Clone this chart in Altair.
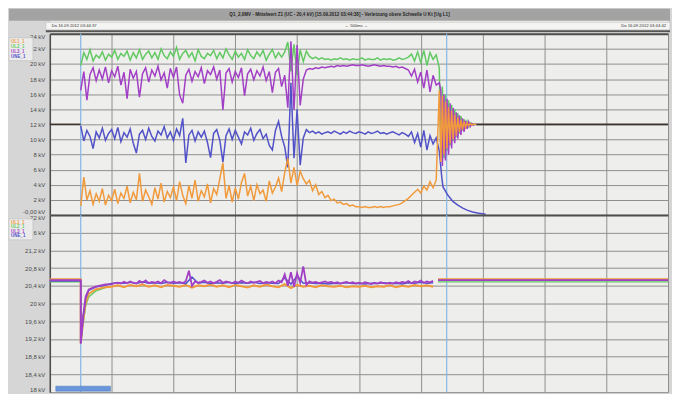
import altair as alt
import numpy as np
import pandas as pd

FONT = "Liberation Sans"

# ---------------- texts ----------------
TITLE = "Q1_2,0MV - Mittelwert Z1 (UC - 20,4 kV) [15.09.2012 03:44:38] - Verletzung obere Schwelle U Kt [Ug L1]"
DATE_LEFT = "Do 16.09.2012 03:44:37"
DATE_RIGHT = "Do 16.09.2012 03:44:42"
SPAN_LABEL = "\u2190 500ms \u2192"

SERIES = ["UL1_1", "UL2_1", "UL3_1", "UNE_1"]          # orange, green, purple, blue
COLORS = ["#f19a3c", "#63c963", "#a23fc6", "#5252c8"]
BASE_COLOR = "#3a332e"
CURSOR_COLOR = "#86b6e6"

GRID_X = [0, 1, 2, 3, 4, 5, 6, 7, 8, 9, 10]
CURSORS = [0.5, 6.42]
TOP_TICKS = [0, 2, 4, 6, 8, 10, 12, 14, 16, 18, 20, 22, 24]
BOT_TICKS = [18.0, 18.4, 18.8, 19.2, 19.6, 20.0, 20.4, 20.8, 21.2, 21.6, 22.0]

# ---------------- top panel data (kV), time in divisions ----------------
MAIN_T0, MAIN_DT = 0.5, 0.05
green_top = [
    19.8, 21.5, 20.6, 21.9, 20.4, 21.2, 20.8, 21.6, 20.5, 21.3,
    20.9, 21.8, 20.6, 21.4, 21.0, 21.7, 20.5, 21.5, 20.8, 21.9,
    20.6, 21.3, 21.7, 20.8, 21.5, 20.6, 22.0, 21.1, 20.7, 21.6,
    21.0, 22.2, 20.6, 21.4, 21.8, 20.9, 21.5, 20.4, 21.9, 21.0,
    20.7, 21.4, 21.1, 21.8, 20.7, 21.5, 20.8, 22.0, 21.2, 20.6,
    21.7, 20.9, 21.4, 20.6, 21.9, 21.1, 20.7, 21.6, 21.0, 21.8,
    20.5, 21.3, 21.9, 20.8, 21.5, 20.9, 21.6, 22.9, 19.0, 22.6,
    18.5, 21.9, 20.3, 21.7, 21.0, 20.7, 20.9, 20.6, 20.8, 20.6,
    20.7, 20.5, 20.7, 20.6, 20.8, 20.6, 20.7, 20.5, 20.7, 20.6,
    20.6, 20.8, 20.5, 20.7, 20.6, 20.6, 20.8, 20.5, 20.7, 20.6,
    20.7, 20.5, 20.6, 20.8, 20.6, 20.7, 20.9, 21.3, 20.4, 21.6,
    20.2, 21.8, 19.8, 21.5, 20.6, 21.2,
]
purple_top = [
    16.5, 19.0, 15.2, 18.6, 19.5, 17.8, 19.2, 18.0, 19.6, 17.5,
    19.1, 18.3, 19.7, 17.2, 18.9, 15.4, 19.3, 18.1, 19.0, 15.6,
    18.7, 19.5, 17.6, 19.2, 18.4, 19.7, 17.9, 18.8, 16.8, 19.4,
    18.2, 19.6, 15.9, 14.8, 18.5, 19.3, 17.7, 19.0, 18.3, 19.5,
    17.4, 19.1, 18.6, 19.6, 18.0, 19.2, 13.9, 18.8, 19.4, 17.6,
    19.0, 18.2, 19.5, 15.8, 18.7, 19.3, 17.9, 19.1, 18.4, 19.6,
    17.8, 19.0, 16.2, 18.9, 19.4, 17.0, 18.5, 14.2, 23.0, 13.9,
    22.5, 14.5, 18.0, 19.2, 19.4, 19.3, 19.5, 19.4, 19.6, 19.5,
    19.6, 19.7, 19.6, 19.8, 19.7, 19.8, 19.7, 19.8, 19.9, 19.8,
    19.8, 19.9, 19.8, 19.7, 19.8, 19.9, 19.8, 19.7, 19.8, 19.7,
    19.7, 19.6, 19.7, 19.5, 19.6, 19.4, 19.2, 18.4, 19.3, 17.6,
    18.9, 16.8, 19.2, 16.3, 18.5, 17.2,
]
blue_top = [
    11.8, 9.8, 11.2, 10.4, 8.8, 11.0, 10.2, 11.5, 9.9, 10.8,
    11.3, 10.1, 11.6, 9.7, 10.9, 10.3, 11.4, 9.5, 8.2, 10.7,
    11.2, 10.0, 11.5, 10.4, 9.8, 11.1, 10.6, 11.7, 10.2, 11.0,
    9.9, 11.4, 10.5, 12.8, 6.9, 10.6, 11.2, 9.8, 11.0, 10.3,
    11.1, 9.6, 7.6, 10.8, 11.3, 9.9, 7.0, 10.5, 11.4, 10.0,
    11.2, 10.3, 9.4, 11.0, 10.6, 11.5, 9.9, 10.8, 11.3, 10.1,
    10.7, 9.2, 8.6, 11.2, 12.4, 10.4, 9.0, 6.3, 17.5, 7.5,
    14.0, 6.6, 10.2, 11.3, 10.9, 11.1, 10.8, 11.0, 10.7, 10.9,
    11.0, 10.8, 11.1, 10.9, 10.7, 11.0, 10.8, 11.1, 10.9, 10.8,
    11.0, 10.9, 10.7, 11.0, 10.8, 10.9, 11.1, 10.8, 10.9, 10.7,
    10.9, 11.0, 10.8, 10.6, 10.9, 10.7, 10.4, 11.0, 9.6, 10.8,
    9.0, 11.2, 8.6, 10.5, 9.4, 10.2,
]
orange_top = [
    1.2, 5.0, 2.0, 3.2, 1.4, 2.8, 1.8, 3.5, 1.3, 2.6,
    1.9, 3.4, 1.5, 2.9, 2.2, 3.8, 1.6, 3.0, 2.0, 5.5,
    1.8, 3.3, 2.4, 1.4, 3.6, 2.1, 4.2, 1.7, 3.1, 2.3,
    3.7, 1.9, 4.4, 2.6, 1.5, 3.9, 2.2, 4.6, 1.8, 3.2,
    2.4, 4.1, 1.6, 3.5, 2.7, 4.8, 6.9, 2.2, 3.9, 1.7,
    3.6, 2.1, 4.3, 5.5, 2.5, 3.8, 1.9, 4.0, 2.8, 3.3,
    1.8, 4.5, 2.9, 3.7, 4.9, 3.1, 5.6, 7.5, 4.2, 6.3,
    3.9, 5.8, 4.8, 4.1, 4.6, 3.2, 4.0, 2.7, 3.1, 2.3,
    2.6, 1.9, 2.1, 1.6, 1.7, 1.4, 1.5, 1.2, 1.3, 1.1,
    1.1, 1.0, 1.1, 1.0, 1.0, 1.1, 1.0, 1.1, 1.0, 1.1,
    1.1, 1.2, 1.3, 1.4, 1.6, 1.9, 2.2, 2.6, 3.0, 3.4,
    2.9, 3.8, 3.3, 4.4, 3.6, 4.6,
]

DECAY_T0, DECAY_DT = 6.30, 0.025
green_decay = [19.5, 8.0, 17.0, 7.5, 16.0, 8.5, 15.2, 9.2, 14.6, 9.8, 14.0, 10.3, 13.5,
               10.8, 13.1, 11.2, 12.7, 11.5, 12.4, 11.7, 12.2, 11.9, 12.1, 12.0, 12.0]
purple_decay = [17.5, 16.5, 6.5, 16.0, 7.2, 15.4, 8.0, 14.8, 8.8, 14.2, 9.5, 13.6, 10.1,
                13.2, 10.6, 12.8, 11.0, 12.5, 11.4, 12.3, 11.7, 12.1, 11.9, 12.0, 12.0]
orange_decay = [16.5, 7.0, 15.8, 8.0, 15.0, 8.8, 14.3, 9.5, 13.8, 10.0, 13.3, 10.5, 12.9,
                11.0, 12.6, 11.3, 12.4, 11.6, 12.2, 11.8, 12.1, 11.9, 12.0, 12.0, 12.0]
blue_tail_t = [6.30, 6.34, 6.36, 6.44, 6.52, 6.60, 6.68, 6.76, 6.84, 6.92, 7.05]
blue_tail_v = [8.5, 5.0, 3.7, 2.6, 1.8, 1.3, 0.9, 0.6, 0.4, 0.25, 0.1]

BASE_LEVEL = 12.0
BASE_SPANS = [[0.0, 0.5], [6.9, 10.0]]

# ---------------- bottom panel data (kV) ----------------
PRE_SPAN = [0.0, 0.5]
POST_SPAN = [6.28, 10.0]
LEVEL_ORANGE, LEVEL_GREEN, LEVEL_PURPLE, LEVEL_BLUE = 20.55, 20.49, 20.53, 20.51
RISE_T = [0.5, 0.54, 0.58, 0.63, 0.74, 0.9]
orange_rise = [19.10, 19.62, 20.02, 20.22, 20.32, 20.37]
green_rise = [19.10, 19.55, 19.95, 20.15, 20.28, 20.36]
purple_rise = [19.10, 19.73, 20.16, 20.32, 20.38, 20.43]
blue_rise = [19.10, 19.70, 20.12, 20.30, 20.37, 20.42]

BOT_T0 = 1.0
purple_bot = [  # step 0.05
    20.44, 20.46, 20.47, 20.45, 20.49, 20.46, 20.50, 20.47, 20.45, 20.51,
    20.47, 20.52, 20.46, 20.49, 20.47, 20.50, 20.46, 20.53, 20.48, 20.47,
    20.50, 20.47, 20.49, 20.46, 20.51, 20.74, 20.40, 20.50, 20.47, 20.49,
    20.52, 20.47, 20.50, 20.46, 20.49, 20.53, 20.47, 20.50, 20.48, 20.46,
    20.50, 20.47, 20.52, 20.48, 20.46, 20.50, 20.47, 20.49, 20.51, 20.46,
    20.49, 20.47, 20.50, 20.46, 20.52, 20.48, 20.66, 20.40, 20.71, 20.38,
    20.68, 20.47, 20.84, 20.42, 20.50, 20.47, 20.49, 20.46, 20.48, 20.50,
    20.47, 20.49, 20.46, 20.48, 20.45, 20.47, 20.49, 20.46, 20.48, 20.45,
    20.47, 20.45, 20.48, 20.46, 20.44, 20.47, 20.45, 20.48, 20.46, 20.45,
    20.47, 20.45, 20.48, 20.46, 20.49, 20.47, 20.51, 20.46, 20.50, 20.48,
    20.52, 20.47, 20.50, 20.48, 20.51,
]
orange_bot = [  # step 0.1
    20.38, 20.41, 20.37, 20.42, 20.39, 20.43, 20.38, 20.41, 20.37, 20.42,
    20.40, 20.38, 20.42, 20.36, 20.41, 20.39, 20.43, 20.38, 20.41, 20.37,
    20.42, 20.39, 20.36, 20.41, 20.38, 20.43, 20.39, 20.37, 20.44, 20.35,
    20.42, 20.38, 20.40, 20.37, 20.41, 20.39, 20.38, 20.40, 20.37, 20.39,
    20.38, 20.40, 20.37, 20.39, 20.38, 20.41, 20.37, 20.40, 20.38, 20.42,
    20.39, 20.41, 20.38,
]
blue_bot = [  # step 0.1
    20.45, 20.47, 20.46, 20.48, 20.45, 20.49, 20.46, 20.47, 20.45, 20.48,
    20.46, 20.47, 20.45, 20.60, 20.46, 20.48, 20.45, 20.47, 20.46, 20.48,
    20.45, 20.47, 20.46, 20.48, 20.45, 20.47, 20.46, 20.45, 20.58, 20.44,
    20.62, 20.46, 20.47, 20.45, 20.46, 20.44, 20.46, 20.45, 20.47, 20.45,
    20.46, 20.44, 20.46, 20.45, 20.47, 20.45, 20.46, 20.44, 20.47, 20.46,
    20.48, 20.46, 20.47,
]


# ---------------- build tables ----------------
def times(t0, dt, vals):
    return [round(t0 + dt * i, 4) for i in range(len(vals))]


def add(rows, series, ts, vs, seg):
    for i, (t, v) in enumerate(zip(ts, vs)):
        rows.append({"series": series, "seg": seg, "idx": i, "t": t, "v": v})


top_rows = []
for k, span in enumerate(BASE_SPANS):
    add(top_rows, "base", span, [BASE_LEVEL, BASE_LEVEL], f"b{k}")
add(top_rows, "UL2_1", times(MAIN_T0, MAIN_DT, green_top) + times(DECAY_T0, DECAY_DT, green_decay),
    green_top + green_decay, "g")
add(top_rows, "UL3_1", times(MAIN_T0, MAIN_DT, purple_top) + times(DECAY_T0, DECAY_DT, purple_decay),
    purple_top + purple_decay, "p")
add(top_rows, "UNE_1", times(MAIN_T0, MAIN_DT, blue_top) + blue_tail_t, blue_top + blue_tail_v, "u")
add(top_rows, "UL1_1", times(MAIN_T0, MAIN_DT, orange_top) + times(DECAY_T0, DECAY_DT, orange_decay),
    orange_top + orange_decay, "o")
top_df = pd.DataFrame(top_rows)

bot_rows = []
add(bot_rows, "UL2_1", PRE_SPAN + RISE_T, [LEVEL_GREEN] * 2 + green_rise, "g1")
add(bot_rows, "UL2_1", POST_SPAN, [LEVEL_GREEN] * 2, "g2")
add(bot_rows, "UL1_1", PRE_SPAN + RISE_T + times(BOT_T0, 0.1, orange_bot),
    [LEVEL_ORANGE] * 2 + orange_rise + orange_bot, "o1")
add(bot_rows, "UL1_1", POST_SPAN, [LEVEL_ORANGE] * 2, "o2")
add(bot_rows, "UNE_1", PRE_SPAN + RISE_T + times(BOT_T0, 0.1, blue_bot),
    [LEVEL_BLUE] * 2 + blue_rise + blue_bot, "u1")
add(bot_rows, "UL3_1", PRE_SPAN + RISE_T + times(BOT_T0, 0.05, purple_bot),
    [LEVEL_PURPLE] * 2 + purple_rise + purple_bot, "p1")
add(bot_rows, "UL3_1", POST_SPAN, [LEVEL_PURPLE] * 2, "p2")
bot_df = pd.DataFrame(bot_rows)

cursor_df = pd.DataFrame({"t": CURSORS})
legend_df = pd.DataFrame({"name": SERIES, "row": list(range(len(SERIES)))})
one = pd.DataFrame({"k": [0]})

# ---------------- layout ----------------
W = 621
H_HEAD, H_TOP, H_BOT = 25, 182, 178
GRID_COLOR = "#8e8e8e"
AXIS_DARK = "#4d4d4d"

x_scale = alt.Scale(domain=[0, 10], nice=False, zero=False)
x_axis = alt.Axis(orient="top", values=GRID_X, grid=True, labels=False, ticks=False, domain=True,
                  domainColor=AXIS_DARK, domainWidth=2, gridColor=GRID_COLOR, gridWidth=1, title=None)
X = alt.X("t:Q", scale=x_scale, axis=x_axis)

top_axis = alt.Axis(values=TOP_TICKS, grid=True, gridColor=GRID_COLOR, gridWidth=1, ticks=False,
                    domain=True, domainColor=AXIS_DARK, domainWidth=1.5, labelFontSize=6,
                    labelColor="#4a4a4a", labelPadding=5, labelFlush=True, title=None, labelFont=FONT,
                    labelExpr="datum.value == 0 ? '-0,00 kV' : datum.value + ' kV'")
bot_axis = alt.Axis(values=BOT_TICKS, grid=True, gridColor=GRID_COLOR, gridWidth=1, ticks=False,
                    domain=True, domainColor=AXIS_DARK, domainWidth=1.5, labelFontSize=6,
                    labelColor="#4a4a4a", labelPadding=5, labelFlush=True, title=None, labelFont=FONT,
                    labelExpr="replace(format(datum.value, '.1~f'), '.', ',') + ' kV'")

color_of = dict(zip(SERIES, COLORS))
color_of["base"] = BASE_COLOR


def legend_layer(r0, r1):
    bg = alt.Chart(one).mark_rect(color="#ebebeb", stroke="#b8b8b8", strokeWidth=0.5).encode(
        x=alt.value(-41), x2=alt.value(-17), y=alt.value(r0 - 4), y2=alt.value(r1 + 4))
    txt = alt.Chart(legend_df).mark_text(align="left", baseline="middle", fontSize=4.5,
                                         font=FONT, fontWeight="bold").encode(
        x=alt.value(-39),
        y=alt.Y("row:O", axis=None, scale=alt.Scale(type="point", range=[r0, r1], padding=0)),
        text="name:N",
        color=alt.Color("name:N", scale=alt.Scale(domain=SERIES, range=COLORS), legend=None))
    return alt.layer(bg, txt)


def panel(df, order, yscale, yaxis, height, r0, r1, extra=None):
    Y = alt.Y("v:Q", scale=yscale, axis=yaxis)
    layers = [alt.Chart(cursor_df).mark_rule(color=CURSOR_COLOR, strokeWidth=1.2).encode(x=X)]
    for s, w in order:
        layers.append(
            alt.Chart(df).transform_filter(alt.datum.series == s)
            .mark_line(color=color_of[s], strokeWidth=w, interpolate="linear")
            .encode(x=X, y=Y, detail="seg:N", order="idx:Q"))
    deco = [legend_layer(r0, r1)]
    if extra is not None:
        deco.append(extra)
    return alt.layer(alt.layer(*layers), *deco).resolve_scale(y="independent").properties(
        width=W, height=height)


# header bar
header = alt.layer(
    alt.Chart(one).mark_rect(color="#a3a3a3").encode(
        x=alt.value(-41), x2=alt.value(W + 2), y=alt.value(0), y2=alt.value(12)),
    alt.Chart(one).mark_rect(color="#f4f4f2", stroke="#b5b5b5", strokeWidth=0.5).encode(
        x=alt.value(-4), x2=alt.value(W + 2), y=alt.value(13.5), y2=alt.value(21)),
    alt.Chart(one).mark_rect(color="#555555").encode(
        x=alt.value(-4), x2=alt.value(W + 2), y=alt.value(21.5), y2=alt.value(23.5)),
    alt.Chart(pd.DataFrame({"label": [TITLE]})).mark_text(
        fontSize=4.6, fontWeight="bold", font=FONT, color="#262626", baseline="middle").encode(
        x=alt.value(291), y=alt.value(6), text="label:N"),
    alt.Chart(pd.DataFrame({"label": [DATE_LEFT]})).mark_text(
        fontSize=4.2, font=FONT, color="#333333", align="left", baseline="middle").encode(
        x=alt.value(2), y=alt.value(17.3), text="label:N"),
    alt.Chart(pd.DataFrame({"label": [SPAN_LABEL]})).mark_text(
        fontSize=4.2, font=FONT, color="#333333", baseline="middle").encode(
        x=alt.value(308), y=alt.value(17.3), text="label:N"),
    alt.Chart(pd.DataFrame({"label": [DATE_RIGHT]})).mark_text(
        fontSize=4.2, font=FONT, color="#333333", align="right", baseline="middle").encode(
        x=alt.value(W - 2), y=alt.value(17.3), text="label:N"),
).properties(width=W, height=H_HEAD)

top = panel(top_df,
            [("UL2_1", 1.5), ("UL3_1", 1.5), ("UNE_1", 1.5), ("UL1_1", 1.5), ("base", 1.6)],
            alt.Scale(domain=[0, 24], nice=False, zero=False), top_axis, H_TOP, 8, 23)

status = alt.Chart(one).mark_rect(color="#6a97dc", stroke="#4a74b8", strokeWidth=0.5).encode(
    x=alt.value(6), x2=alt.value(61), y=alt.value(H_BOT - 6), y2=alt.value(H_BOT - 1))

bottom = panel(bot_df,
               [("UL2_1", 1.3), ("UL1_1", 2.0), ("UNE_1", 1.5), ("UL3_1", 1.8)],
               alt.Scale(domain=[18, 22], nice=False, zero=False), bot_axis, H_BOT, 8, 21, status)

chart = alt.vconcat(header, top, bottom, spacing=0, bounds="flush", padding=0).configure(
    background="#d6d6d6").configure_view(fill="#eeefec", strokeOpacity=0)

chart.save("out.html", embed_options={"renderer": "svg", "actions": False})
